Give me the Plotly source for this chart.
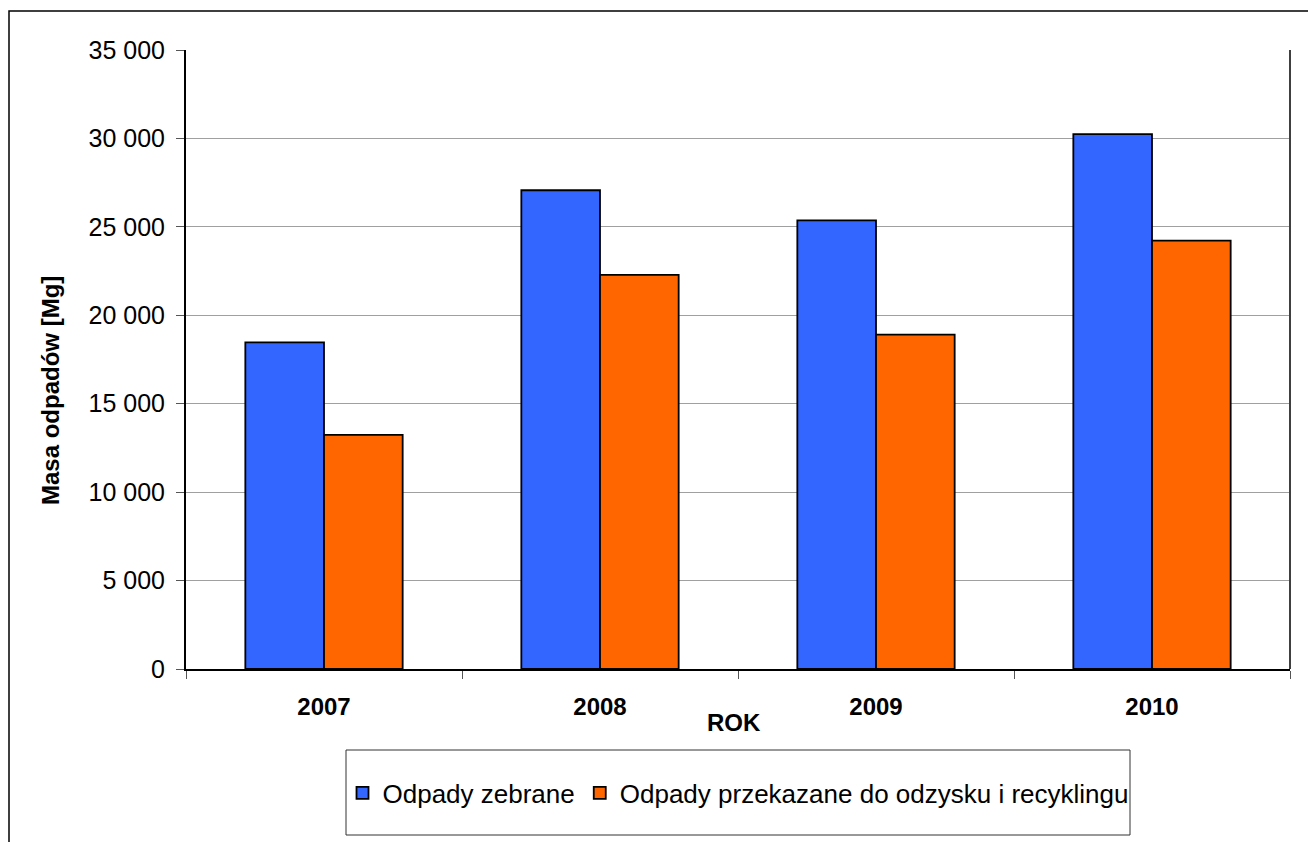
import plotly.graph_objects as go

# Waste mass by year [Mg]
years = ["2007", "2008", "2009", "2010"]
collected = [18470, 27070, 25370, 30240]
recovered = [13240, 22290, 18910, 24220]

series_names = ["Odpady zebrane", "Odpady przekazane do odzysku i recyklingu"]
y_tick_values = [0, 5000, 10000, 15000, 20000, 25000, 30000, 35000]
y_tick_labels = ["0", "5 000", "10 000", "15 000", "20 000", "25 000", "30 000", "35 000"]

FONT = "Arial, Liberation Sans, sans-serif"
W, H = 1308, 842
L, R, T, B = 186, 18, 50, 173
PW, PH = W - L - R, H - T - B


def px_x(px):
    return (px - L) / PW


def px_y(py):
    return (H - B - py) / PH


fig = go.Figure()
fig.add_trace(go.Bar(
    x=years, y=collected, name=series_names[0],
    marker=dict(color="#3366FF", line=dict(color="#000000", width=1.8)),
))
fig.add_trace(go.Bar(
    x=years, y=recovered, name=series_names[1],
    marker=dict(color="#FF6600", line=dict(color="#000000", width=1.8)),
))

fig.update_layout(
    width=W, height=H,
    margin=dict(l=L, r=R, t=T, b=B),
    paper_bgcolor="white", plot_bgcolor="white",
    barmode="group", bargap=0.43, bargroupgap=0,
    font=dict(family=FONT, color="#000000"),
    showlegend=True,
    legend=dict(
        orientation="h", x=0.5, xanchor="center",
        y=px_y(793), yanchor="middle",
        font=dict(family=FONT, size=26, color="#000000"),
        bgcolor="rgba(0,0,0,0)", borderwidth=0,
        itemwidth=30, tracegroupgap=0,
    ),
)

fig.update_xaxes(
    type="category",
    showline=True, linecolor="#000000", linewidth=2,
    ticks="outside", tickson="boundaries", ticklen=8, tickcolor="#555555", tickwidth=1,
    tickfont=dict(family=FONT, size=24, color="#000000", weight="bold"),
    ticklabelstandoff=15,
    showgrid=False, zeroline=False,
)
fig.update_yaxes(
    range=[0, 35000],
    tickvals=y_tick_values, ticktext=y_tick_labels,
    showline=True, linecolor="#000000", linewidth=2,
    ticks="outside", ticklen=8, tickcolor="#555555", tickwidth=1,
    tickfont=dict(family=FONT, size=25, color="#000000"),
    ticklabelstandoff=6,
    showgrid=True, gridcolor="#A0A0A0", gridwidth=1,
    zeroline=False,
)

# Axis titles
fig.add_annotation(
    text="<b>Masa odpadów [Mg]</b>", xref="paper", yref="paper",
    x=px_x(50), y=px_y(391), xanchor="center", yanchor="middle",
    textangle=-90, showarrow=False,
    font=dict(family=FONT, size=24, color="#000000"),
)
fig.add_annotation(
    text="<b>ROK</b>", xref="paper", yref="paper",
    x=px_x(734), y=px_y(723), xanchor="center", yanchor="middle",
    showarrow=False,
    font=dict(family=FONT, size=24, color="#000000"),
)

# Right edge of the plot area
fig.add_shape(type="line", xref="paper", yref="paper",
              x0=1, x1=1, y0=0, y1=1,
              line=dict(color="#404040", width=2))
# Legend frame
fig.add_shape(type="rect", xref="paper", yref="paper",
              x0=px_x(346), x1=px_x(1130), y0=px_y(835), y1=px_y(750),
              line=dict(color="#333333", width=1), layer="below")
# Chart frame
fig.add_shape(type="rect", xref="paper", yref="paper",
              x0=px_x(9), x1=px_x(1330), y0=px_y(860), y1=px_y(11),
              line=dict(color="#000000", width=1.5), layer="below")

fig.write_html("out.html")
